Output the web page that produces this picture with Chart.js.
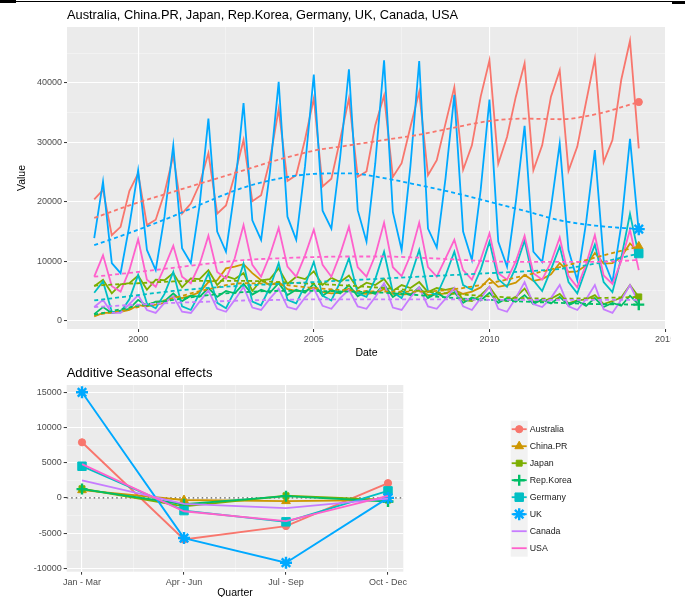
<!DOCTYPE html>
<html>
<head>
<meta charset="utf-8">
<script src="https://cdn.jsdelivr.net/npm/chart.js"></script>
<style>
  html, body { margin: 0; padding: 0; background: #ffffff; }
  body { width: 685px; height: 597px; position: relative; overflow: hidden; }
  canvas { position: absolute; left: 0; }
  #trendChart { top: 0; }
  #seasonChart { top: 360px; }
  .rule { position: absolute; background: #000; }
</style>
</head>
<body>
<div class="rule" style="left:0;top:0;width:16px;height:3px"></div>
<div class="rule" style="left:16px;top:1px;width:656px;height:1px"></div>
<div class="rule" style="left:672px;top:1px;width:13px;height:3px"></div>
<canvas id="trendChart" width="671" height="360"></canvas>
<canvas id="seasonChart" width="685" height="241"></canvas>
<script>
// ---------- data ----------
const countries = ['Australia', 'China.PR', 'Japan', 'Rep.Korea', 'Germany', 'UK', 'Canada', 'USA'];

const quarterStarts = [
  '1998-10',
  '1999-01','1999-04','1999-07','1999-10',
  '2000-01','2000-04','2000-07','2000-10',
  '2001-01','2001-04','2001-07','2001-10',
  '2002-01','2002-04','2002-07','2002-10',
  '2003-01','2003-04','2003-07','2003-10',
  '2004-01','2004-04','2004-07','2004-10',
  '2005-01','2005-04','2005-07','2005-10',
  '2006-01','2006-04','2006-07','2006-10',
  '2007-01','2007-04','2007-07','2007-10',
  '2008-01','2008-04','2008-07','2008-10',
  '2009-01','2009-04','2009-07','2009-10',
  '2010-01','2010-04','2010-07','2010-10',
  '2011-01','2011-04','2011-07','2011-10',
  '2012-01','2012-04','2012-07','2012-10',
  '2013-01','2013-04','2013-07','2013-10',
  '2014-01','2014-04'
];

const australia = [20400,
  22000,14400,15800,21800, 24800,16100,17000,21500, 27800,18000,19700,23000,
  28200,18000,19400,24500, 30400,20100,21100,27000, 35600,23500,24500,30500,
  37400,22600,23900,30500, 37400,24200,25100,32900, 37900,24200,26500,32600,
  38500,24500,27000,33200, 39300,25400,29500,37700, 43800,26400,30900,37700,
  43300,25300,29500,37700, 42100,25200,29300,36800, 44100,26700,30400,40500,
  47100,29000];

const chinaPR = [700,
  1300,1300,1500,1800, 2600,2400,2700,3000, 4100,3800,4200,4800,
  6500,6800,8800,9100, 9500,8000,6800,6000, 6500,5300,5000,5000,
  5600,4800,4600,4700, 5400,4600,4500,4700, 5300,4500,4400,4500,
  5200,4300,4400,4600, 5200,4500,4900,5600, 7100,5700,6000,6400,
  7700,6700,7000,7800, 9700,8200,8300,9300, 11400,9600,9700,10700,
  13000,11500];

const japan = [5800,
  6900,4600,6100,6300, 7600,5200,6900,6800, 8000,5600,7100,7000,
  8500,6000,7500,7000, 8000,5000,6800,7000, 8800,6200,7400,7000,
  8300,6000,7200,6500, 7600,5400,6400,6000, 7000,5000,6000,5500,
  6500,4800,5500,5200, 5500,3500,3300,4300, 5700,3600,3300,4000,
  5400,3200,3300,3700, 4500,2900,3400,3600, 4300,2800,3300,3900,
  6000,4000];

const repKorea = [1100,
  2300,1300,1700,2000, 3500,2500,3200,3300, 4600,3300,4200,4000,
  5500,4000,5000,4600, 6200,4400,5200,4700, 6300,4300,5200,4700,
  6200,4200,5200,4600, 6000,4100,5000,4500, 6100,4000,5000,4300,
  5600,3800,4700,3800, 4800,3000,3900,3400, 4700,3000,3800,3200,
  4300,2800,3600,2900, 4000,2600,3300,2500, 3800,2300,3000,2500,
  4200,2700];

const germany = [4700,
  6600,1500,1400,3600, 7700,2900,2100,4500, 8200,2400,1800,4600,
  8000,3000,2100,5000, 9600,3200,2600,5600, 9700,3500,2900,6000,
  9900,4200,3400,6500, 10500,4600,4000,7000, 11600,4800,3800,7300,
  11900,5000,4300,7600, 11600,6000,5200,8600, 13300,7000,5700,9000,
  13500,6800,5000,8600, 12500,6500,4600,8800, 12800,6500,4800,10500,
  18000,11000];

const uk = [13900,
  23400,9700,8000,16000, 25300,11900,8500,17500, 29500,12200,9700,19500,
  34000,15000,11600,22000, 36600,16900,13600,25000, 40200,17500,13600,26000,
  41400,18500,15500,27500, 42300,18600,13300,26500, 43800,18300,11900,26000,
  43700,15500,12300,24000, 38000,15000,10200,22000, 37200,13300,9100,20000,
  32800,11600,9900,19000, 29800,11900,6800,16500, 28700,10200,6500,16000,
  30600,15000];

const canada = [2300,
  3500,1300,1300,2800, 4300,1800,1300,3000, 4100,1500,1300,3200,
  5100,2000,1500,3500, 5700,2200,1800,3700, 5400,2300,1900,3900,
  5400,2500,2000,3800, 5200,2400,2000,4000, 6300,2200,1800,3900,
  5600,2400,2000,3700, 5500,2400,1800,3800, 5700,2000,1500,3800,
  6500,2800,2300,3800, 6000,2400,1800,3600, 6000,1900,1300,3500,
  6000,3000];

const usa = [7400,
  11000,5800,4900,8500, 13700,6900,5700,9000, 12600,7400,6300,9500,
  14300,8200,7100,10500, 16100,9400,7400,11000, 15600,9100,7400,11000,
  15300,9400,7400,11200, 15800,9000,7400,11000, 16500,9000,7500,11000,
  16500,9000,7400,10500, 13600,8500,6900,10300, 14700,8000,6900,10000,
  14300,8000,6900,9800, 14000,7500,5600,9500, 14400,7600,6200,10000,
  15300,8500];

// smoothed trend of each series
const trendDates = ['1998-10','2000-01','2001-01','2002-01','2003-01','2004-01','2005-01','2006-01',
  '2007-01','2008-01','2009-01','2010-01','2011-01','2012-01','2013-01','2014-04'];
const trendAustralia = [17300,19900,21700,23500,25300,27100,28600,29500,30400,31300,32500,33600,34000,33900,34700,36800];
const trendChinaPR   = [900,2300,3800,5300,6300,6100,5500,5100,4900,4900,5300,6300,7600,9000,10600,12500];
const trendJapan     = [5900,6300,6600,6700,6700,6500,6200,5900,5500,5000,4500,4100,3800,3700,3800,4000];
const trendRepKorea  = [1000,2500,3500,4300,4800,5000,5000,4900,4700,4300,3800,3500,3200,3000,2800,2700];
const trendGermany   = [3400,4300,5000,5500,5900,6200,6500,6800,7100,7400,7700,8000,8300,8700,9600,11300];
const trendUK        = [12700,15300,17600,20100,22400,23900,24700,24800,24000,22800,21500,20000,18500,16900,16000,15400];
const trendCanada    = [2300,2700,3000,3200,3400,3500,3600,3600,3600,3600,3600,3500,3500,3500,3500,3500];
const trendUSA       = [7400,8200,8900,9600,10200,10500,10700,10800,10800,10600,10300,10000,9900,9900,9900,10200];

// additive seasonal effects per quarter
const quarterLabels = ['Jan - Mar', 'Apr - Jun', 'Jul - Sep', 'Oct - Dec'];
const seasAustralia = [7900, -5900, -4000, 2100];
const seasChinaPR   = [1100, -300, -450, -300];
const seasJapan     = [1300, -1200, 300, -300];
const seasRepKorea  = [1250, -900, 250, -500];
const seasGermany   = [4500, -1800, -3400, 1000];
const seasUK        = [15000, -5700, -9200, 0];
const seasCanada    = [2500, -850, -1450, -100];
const seasUSA       = [4800, -1900, -3300, 300];

// axis ticks
const dateTicks = [2000, 2002.5, 2005, 2007.5, 2010, 2012.5, 2015];
const dateLabelled = [2000, 2005, 2010, 2015];
const valueTicks = [0, 5000, 10000, 15000, 20000, 25000, 30000, 35000, 40000, 45000];
const valueLabelled = [0, 10000, 20000, 30000, 40000];
const quarterTicks = [1, 1.5, 2, 2.5, 3, 3.5, 4];
const effectTicks = [-10000, -7500, -5000, -2500, 0, 2500, 5000, 7500, 10000, 12500, 15000];
const effectLabelled = [-10000, -5000, 0, 5000, 10000, 15000];

// ---------- styling ----------
const observed = [australia, chinaPR, japan, repKorea, germany, uk, canada, usa];
const trends = [trendAustralia, trendChinaPR, trendJapan, trendRepKorea, trendGermany, trendUK, trendCanada, trendUSA];
const seasonal = [seasAustralia, seasChinaPR, seasJapan, seasRepKorea, seasGermany, seasUK, seasCanada, seasUSA];

const colours = ['#F8766D', '#CD9600', '#7CAE00', '#00BE67', '#00BFC4', '#00A9FF', '#C77CFF', '#FF61CC'];
const shapes = ['circle', 'triangle', 'rect', 'cross', 'rect', 'star', null, null];
const shapeRadius = [3.6, 5, 4.2, 5.5, 6, 6, 0, 0];
const shapeBorder = [1, 1, 1, 2.4, 1, 2.4, 0, 0];

const FONT = '"Liberation Sans", Arial, Helvetica, sans-serif';
Chart.defaults.font.family = FONT;

const toYear = s => { const [y, m] = s.split('-').map(Number); return y + (m - 1) / 12; };

function gridFor(labelled) {
  const major = ctx => ctx.tick && labelled.includes(ctx.tick.value);
  return {
    color: ctx => major(ctx) ? '#FFFFFF' : 'rgba(255,255,255,0.6)',
    lineWidth: ctx => major(ctx) ? 1.1 : 0.6,
    tickColor: ctx => major(ctx) ? '#333333' : 'rgba(0,0,0,0)',
    tickLength: 3,
    tickWidth: 1
  };
}

const panelPlugin = {
  id: 'panel',
  beforeDraw(chart, args, opts) {
    const { ctx, chartArea: a } = chart;
    ctx.save();
    ctx.fillStyle = '#EBEBEB';
    ctx.fillRect(a.left, a.top, a.right - a.left, a.bottom - a.top);
    ctx.restore();
  },
  afterDraw(chart, args, opts) {
    const { ctx, chartArea: a } = chart;
    ctx.save();
    ctx.font = opts.size + 'px ' + FONT;
    ctx.fillStyle = '#000000';
    ctx.textBaseline = 'middle';
    ctx.textAlign = 'left';
    ctx.fillText(opts.title, a.left, opts.titleY);
    ctx.restore();
  }
};

// ---------- top: observed series with trends ----------
const trendDatasets = [];
const lineDatasets = [];
countries.forEach((name, i) => {
  lineDatasets.push({
    label: name,
    data: quarterStarts.map((d, k) => ({ x: toYear(d), y: observed[i][k] })),
    borderColor: colours[i],
    borderWidth: 1.8,
    pointRadius: 0,
    tension: 0,
    order: 100 - i
  });
  const last = trendDates.length - 1;
  trendDatasets.push({
    label: name + ' trend',
    data: trendDates.map((d, k) => ({ x: toYear(d), y: trends[i][k] })),
    borderColor: colours[i],
    backgroundColor: colours[i],
    borderWidth: 1.8,
    borderDash: [4, 3],
    cubicInterpolationMode: 'monotone',
    pointStyle: shapes[i] || 'circle',
    pointRadius: ctx => (shapes[i] && ctx.dataIndex === last) ? shapeRadius[i] : 0,
    pointBorderWidth: shapeBorder[i],
    pointBackgroundColor: colours[i],
    pointBorderColor: colours[i],
    order: 50 - i
  });
});

new Chart(document.getElementById('trendChart'), {
  type: 'line',
  data: { datasets: lineDatasets.concat(trendDatasets) },
  plugins: [panelPlugin],
  options: {
    responsive: false,
    animation: false,
    events: [],
    layout: { autoPadding: false, padding: { left: 16, top: 27, right: 5, bottom: 0 } },
    plugins: {
      legend: { display: false },
      tooltip: { enabled: false },
      panel: { title: 'Australia, China.PR, Japan, Rep.Korea, Germany, UK, Canada, USA', titleY: 15, size: 12.8 }
    },
    scales: {
      x: {
        type: 'linear', min: 1997.975, max: 2015.025,
        afterBuildTicks: s => { s.ticks = dateTicks.map(v => ({ value: v })); },
        afterFit: s => { s.height = 31; s.paddingLeft = 0; s.paddingRight = 0; },
        grid: gridFor(dateLabelled),
        border: { display: false },
        ticks: {
          autoSkip: false, maxRotation: 0, padding: 2, color: '#4D4D4D', font: { size: 9 },
          callback: v => dateLabelled.includes(v) ? String(v) : ''
        },
        title: { display: true, text: 'Date', color: '#000000', font: { size: 10.5 }, padding: { top: 0, bottom: 1 } }
      },
      y: {
        type: 'linear', min: -1400, max: 49420,
        afterBuildTicks: s => { s.ticks = valueTicks.map(v => ({ value: v })); },
        afterFit: s => { s.width = 51; s.paddingTop = 0; s.paddingBottom = 0; },
        grid: gridFor(valueLabelled),
        border: { display: false },
        ticks: {
          autoSkip: false, padding: 2, color: '#4D4D4D', font: { size: 9 },
          callback: v => valueLabelled.includes(v) ? String(v) : ''
        },
        title: { display: true, text: 'Value', color: '#000000', font: { size: 10.5 }, padding: { top: 0, bottom: 0 } }
      }
    }
  }
});

// ---------- bottom: seasonal effects with legend ----------
const zeroLinePlugin = {
  id: 'zeroLine',
  beforeDatasetsDraw(chart) {
    const { ctx, chartArea: a, scales } = chart;
    const y = scales.y.getPixelForValue(0);
    ctx.save();
    ctx.strokeStyle = '#555555';
    ctx.lineWidth = 1.3;
    ctx.setLineDash([1.5, 3]);
    ctx.beginPath();
    ctx.moveTo(a.left, y);
    ctx.lineTo(a.right, y);
    ctx.stroke();
    ctx.restore();
  }
};

const keyLegendPlugin = {
  id: 'keyLegend',
  afterDraw(chart, args, opts) {
    const { ctx } = chart;
    const x0 = opts.left, y0 = opts.top, key = opts.key;
    ctx.save();
    ctx.fillStyle = '#F2F2F2';
    ctx.fillRect(x0, y0, key, key * countries.length);
    countries.forEach((name, i) => {
      const cy = y0 + key * (i + 0.5);
      ctx.strokeStyle = colours[i];
      ctx.lineWidth = 1.8;
      ctx.setLineDash([]);
      ctx.beginPath();
      ctx.moveTo(x0 + 1, cy);
      ctx.lineTo(x0 + key - 1, cy);
      ctx.stroke();
      if (shapes[i]) {
        ctx.fillStyle = colours[i];
        ctx.strokeStyle = colours[i];
        ctx.lineWidth = shapeBorder[i];
        Chart.helpers.drawPoint(ctx, {
          pointStyle: shapes[i], radius: shapeRadius[i], rotation: 0, borderWidth: shapeBorder[i]
        }, x0 + key / 2, cy);
      }
      ctx.fillStyle = '#1A1A1A';
      ctx.font = '8.8px ' + FONT;
      ctx.textBaseline = 'middle';
      ctx.textAlign = 'left';
      ctx.fillText(name, x0 + key + 2, cy + 0.5);
    });
    ctx.restore();
  }
};

const seasonDatasets = countries.map((name, i) => ({
  label: name,
  data: seasonal[i].map((v, k) => ({ x: k + 1, y: v })),
  borderColor: colours[i],
  backgroundColor: colours[i],
  borderWidth: 1.9,
  tension: 0,
  pointStyle: shapes[i] || 'circle',
  pointRadius: shapes[i] ? shapeRadius[i] : 0,
  pointBorderWidth: shapeBorder[i],
  pointBackgroundColor: colours[i],
  pointBorderColor: colours[i],
  order: 100 - i
}));

new Chart(document.getElementById('seasonChart'), {
  type: 'line',
  data: { datasets: seasonDatasets },
  plugins: [panelPlugin, zeroLinePlugin, keyLegendPlugin],
  options: {
    responsive: false,
    animation: false,
    events: [],
    layout: { autoPadding: false, padding: { left: 16, top: 25, right: 281.7, bottom: 0 } },
    plugins: {
      legend: { display: false },
      tooltip: { enabled: false },
      panel: { title: 'Additive Seasonal effects', titleY: 13.3, size: 13 },
      keyLegend: { left: 510.7, top: 60.7, key: 17 }
    },
    scales: {
      x: {
        type: 'linear', min: 0.85, max: 4.15,
        afterBuildTicks: s => { s.ticks = quarterTicks.map(v => ({ value: v })); },
        afterFit: s => { s.height = 29.3; s.paddingLeft = 0; s.paddingRight = 0; },
        grid: gridFor([1, 2, 3, 4]),
        border: { display: false },
        ticks: {
          autoSkip: false, maxRotation: 0, padding: 2, color: '#4D4D4D', font: { size: 9 },
          callback: v => Number.isInteger(v) ? quarterLabels[v - 1] : ''
        },
        title: { display: true, text: 'Quarter', color: '#000000', font: { size: 10.5 }, padding: { top: 0, bottom: 1.4 } }
      },
      y: {
        type: 'linear', min: -10480, max: 16040,
        afterBuildTicks: s => { s.ticks = effectTicks.map(v => ({ value: v })); },
        afterFit: s => { s.width = 50.7; s.paddingTop = 0; s.paddingBottom = 0; },
        grid: gridFor(effectLabelled),
        border: { display: false },
        ticks: {
          autoSkip: false, padding: 2, color: '#4D4D4D', font: { size: 9 },
          callback: v => effectLabelled.includes(v) ? String(v) : ''
        }
      }
    }
  }
});
</script>
</body>
</html>
